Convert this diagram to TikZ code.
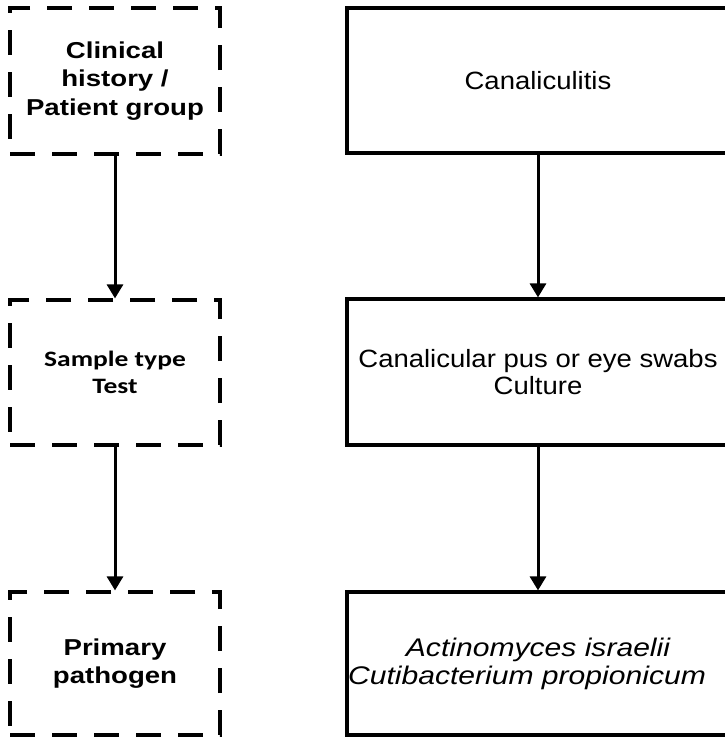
\documentclass[tikz,border=0pt]{standalone}
\usepackage{fontspec}
\setmainfont{Liberation Sans}
\newfontfamily\rfont[FakeStretch=1.1]{Liberation Sans}
\newfontfamily\ifont[FakeStretch=1.18]{Liberation Sans}
\newfontfamily\bfont[FakeStretch=1.2]{Liberation Sans}
\newfontfamily\cfont[FakeStretch=1.25]{Carlito}
\usetikzlibrary{arrows.meta}
\tikzset{
  dbox/.style={draw, line width=3.2pt, dash pattern=on 25pt off 17pt, minimum width=210pt, align=center, font=\bfont\bfseries\fontsize{23}{28.5}\selectfont, inner sep=0pt},
  sbox/.style={draw, line width=3.2pt, minimum width=382pt, align=center, font=\rfont\fontsize{25}{27.5}\selectfont, inner sep=0pt},
  arr/.style={line width=3pt, -{Triangle[length=14pt,width=16pt]}}
}
\begin{document}
\begin{tikzpicture}[x=1pt,y=-1pt]
\useasboundingbox (0,0) rectangle (725,737);
\node[dbox, minimum height=146pt] (l1) at (115,81) {Clinical\\history /\\Patient group};
\node[dbox, minimum height=145pt, font=\cfont\bfseries\fontsize{22}{27}\selectfont] (l2) at (115,372.5) {Sample type\\Test};
\node[dbox, minimum height=143pt] (l3) at (115,663.5) {Primary\\pathogen};
\node[sbox, minimum height=145pt] (r1) at (538,80.5) {Canaliculitis};
\node[sbox, minimum height=146pt] (r2) at (538,372) {Canalicular pus or eye swabs\\Culture};
\node[sbox, minimum height=143pt, font=\ifont\itshape\fontsize{25.5}{28}\selectfont] (r3) at (538,663.5) {Actinomyces israelii\\Cutibacterium propionicum\hspace*{22pt}};
\draw[arr] (l1.south) -- (l2.north);
\draw[arr] (l2.south) -- (l3.north);
\draw[arr] (r1.south) -- (r2.north);
\draw[arr] (r2.south) -- (r3.north);
\end{tikzpicture}
\end{document}
